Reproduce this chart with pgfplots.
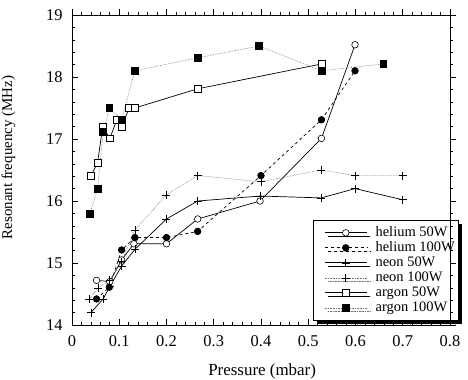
\documentclass[border=0pt]{standalone}
\usepackage{fontspec}
\setmainfont{Liberation Serif}
\usepackage{pgfplots}
\pgfplotsset{compat=1.18}
\usetikzlibrary{shadows}

\pgfplotsset{
  myframe/.style={
    at={(0,0)}, anchor=south west,
    scale only axis, width=378bp, height=310bp,
    xmin=0, xmax=0.8, ymin=14, ymax=19,
    xtick={0,0.1,0.2,0.3,0.4,0.5,0.6,0.7,0.8},
    ytick={14,15,16,17,18,19},
    minor x tick num=4, minor y tick num=4,
    major tick length=6bp, minor tick length=3bp,
    axis line style={line width=0.8bp},
    tick style={line width=0.6bp, black},
  },
}

\begin{document}
\begin{tikzpicture}
\begin{axis}[myframe,
  xtick pos=lower, ytick pos=left, tick align=inside,
  /pgf/number format/assume math mode=true,
  xticklabel style={/pgf/number format/fixed, /pgf/number format/precision=1, yshift=-7bp},
  yticklabel style={xshift=-6bp},
  ticklabel style={font=\fontsize{16.5}{18}\selectfont},
  xlabel={Pressure (mbar)},
  ylabel={Resonant frequency (MHz)},
  xlabel style={at={(axis description cs:0.503,-0.150)}, anchor=center, font=\fontsize{17}{19}\selectfont},
  ylabel style={at={(axis description cs:-0.168,0.54)}, anchor=center, font=\fontsize{15}{17}\selectfont},
  legend cell align=left,
  legend image code/.code={\draw[mark repeat=2,mark phase=2,#1] plot coordinates {(0bp,0bp)(21bp,0bp)(42bp,0bp)};
     \path (-8bp,0bp) (50bp,0bp);},
  legend style={at={(0.6376,0.339)}, anchor=north west, draw=black, line width=0.8bp, fill=white,
    font=\fontsize{14.5}{15}\selectfont, inner xsep=3bp, inner ysep=5bp, row sep=0pt,
    nodes={inner sep=0.5bp, text height=10.5bp, text depth=3.5bp},
    drop shadow={shadow xshift=3.5bp, shadow yshift=-3.5bp, fill=black, opacity=1}},
]
\addplot[black, line width=0.7bp, solid, mark=*, mark size=3.3bp, mark options={fill=white, solid, line width=0.6bp}] coordinates {
(0.052,14.72) (0.080,14.70) (0.105,15.05) (0.131,15.31) (0.200,15.31) (0.266,15.71) (0.398,16.00) (0.528,17.01) (0.599,18.52)};
\addlegendentry{helium 50W}
\addplot[black, line width=0.7bp, dashed, mark=*, mark size=3.3bp, mark options={fill=black, solid}] coordinates {
(0.052,14.42) (0.079,14.61) (0.105,15.21) (0.133,15.41) (0.200,15.41) (0.266,15.51) (0.400,16.41) (0.528,17.31) (0.599,18.10)};
\addlegendentry{helium 100W}
\addplot[black, line width=0.7bp, solid, mark=+, mark size=4bp, mark options={solid, line width=0.6bp}] coordinates {
(0.040,14.20) (0.066,14.42) (0.080,14.62) (0.105,14.95) (0.133,15.22) (0.200,15.71) (0.266,16.00) (0.398,16.08) (0.528,16.05) (0.599,16.20) (0.700,16.02)};
\addlegendentry{neon 50W}
\addplot[black!55, line width=0.6bp, densely dotted, mark=+, mark size=4bp, mark options={solid, black, line width=0.6bp}] coordinates {
(0.037,14.42) (0.055,14.60) (0.080,14.72) (0.105,15.02) (0.133,15.53) (0.200,16.10) (0.266,16.41) (0.400,16.31) (0.528,16.50) (0.599,16.41) (0.700,16.41)};
\addlegendentry{neon 100W}
\addplot[black, line width=0.7bp, solid, mark=square*, mark size=3.4bp, mark options={fill=white, solid, line width=0.6bp}] coordinates {
(0.040,16.41) (0.054,16.61) (0.065,17.20) (0.080,17.01) (0.095,17.31) (0.105,17.20) (0.121,17.50) (0.133,17.50) (0.266,17.81) (0.528,18.21)};
\addlegendentry{argon 50W}
\addplot[black!55, line width=0.6bp, densely dotted, mark=square*, mark size=3.4bp, mark options={fill=black, draw=black, solid}] coordinates {
(0.038,15.80) (0.054,16.20) (0.066,17.11) (0.079,17.50) (0.105,17.31) (0.133,18.10) (0.266,18.31) (0.396,18.50) (0.528,18.10) (0.659,18.21)};
\addlegendentry{argon 100W}
\end{axis}
\begin{axis}[myframe,
  xtick pos=upper, ytick pos=right, tick align=outside,
  xticklabels={}, yticklabels={},
]
\end{axis}
\pgfresetboundingbox
\path[use as bounding box] (-72bp,-55bp) rectangle (396bp,325bp);
\end{tikzpicture}
\end{document}
